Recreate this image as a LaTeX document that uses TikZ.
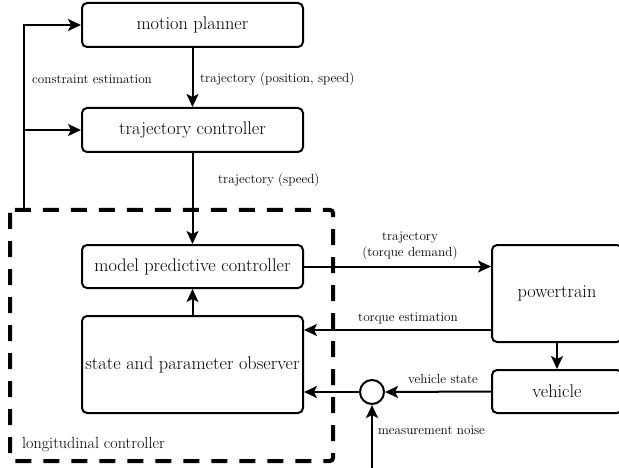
\documentclass[tikz,border=0pt]{standalone}
\usepackage{fontspec}
\usetikzlibrary{arrows.meta,positioning}

\tikzset{
    block/.style={draw, line width=2pt, rounded corners=5pt, minimum width=221pt,
                  align=center, font=\fontsize{18.3}{22}\selectfont},
    lbl/.style={inner sep=0pt, align=center, font=\fontsize{13.2}{15.5}\selectfont},
    flow/.style={line width=2pt, -{Stealth[length=13pt,width=12pt,inset=3pt]}},
}

\begin{document}
\begin{tikzpicture}[x=1pt,y=-1pt]% pixel grid of the sketch %%%
\useasboundingbox (0,0) rectangle (619,468);

% the blocks
\node[block, minimum height=44pt] (planner)  at (192.5,25)    {motion planner};
\node[block, minimum height=44pt] (trajctrl) at (192.5,130)   {trajectory controller};
\node[block, minimum height=43pt] (mpc)      at (192.5,266.5) {model predictive controller};
\node[block, minimum height=97pt] (observer) at (192.5,364.5) {state and parameter observer};
\node[block, minimum height=97pt, minimum width=130pt] (powertrain) at (557,293.5) {powertrain};
\node[block, minimum height=43pt, minimum width=130pt] (vehicle)    at (557,391.5) {vehicle};
\node[draw, circle, line width=2pt, minimum size=24pt, inner sep=0pt] (sum) at (372,392) {};

% longitudinal controller frame
\draw[line width=4pt, dash pattern=on 16pt off 12pt, rounded corners=3pt]
      (10,210) rectangle (333,461);
\node[lbl, anchor=west, font=\fontsize{16.1}{19}\selectfont] (longctrl) at (22,445) {longitudinal controller};

\coordinate (fb)    at (24,210);
\coordinate (noise) at (372,470);

% connectors
\draw[flow] (planner) -- (trajctrl);
\draw[flow] (trajctrl) -- (mpc);
\draw[flow] (observer) -- (mpc);
\draw[flow] (mpc.east) -- (mpc.east -| powertrain.west);
\draw[flow] ([yshift=-36.5pt]powertrain.west) -- ([yshift=-36.5pt]powertrain.west -| observer.east);
\draw[flow] (powertrain) -- (vehicle);
\draw[flow] (vehicle.west) -- (sum.east);
\draw[flow] (sum.west) -- (sum.west -| observer.east);
\draw[flow] (noise) -- (sum.south);
\draw[flow] (fb) |- (planner.west);
\draw[flow] (fb |- trajctrl.west) -- (trajctrl.west);

% labels
\node[lbl, anchor=west] (lblcons)  at (32,79)   {constraint estimation};
\node[lbl, anchor=west] (lblpos)   at (200,79)  {trajectory (position, speed)};
\node[lbl, anchor=west] (lblspeed) at (218,180) {trajectory (speed)};
\node[lbl] (lbltorque) at (410,246) {trajectory\\(torque demand)};
\node[lbl] (lblest)    at (408,318) {torque estimation};
\node[lbl] (lblstate)  at (443,379) {vehicle state};
\node[lbl, anchor=west] (lblnoise) at (378,430) {measurement noise};
\end{tikzpicture}
\end{document}
